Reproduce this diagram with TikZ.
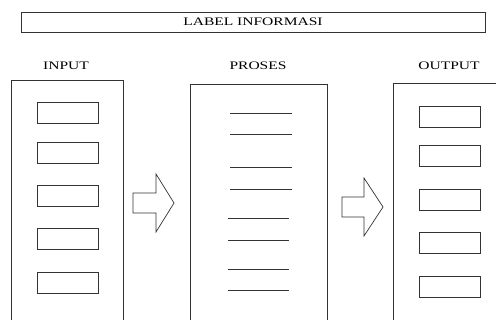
\documentclass[tikz,border=0pt]{standalone}
\usepackage{fontspec}
\setmainfont{Liberation Serif}[FakeStretch=1.35]

\begin{document}
\begin{tikzpicture}[x=1pt,y=-1pt,line width=.8pt,draw=black!80,
    every node/.style={inner sep=0pt,font=\fontsize{11.5}{12}\selectfont},
    frame/.style={draw,minimum width=#1},
    slot/.style={draw,minimum width=61,minimum height=21}]
  \useasboundingbox (0,0) rectangle (496,320);
  \clip (0,0) rectangle (496,320);

  \node[frame=464,minimum height=20] (info) at (253,22) {LABEL INFORMASI};
  \node (input) at (66,66) {INPUT};
  \node (proses) at (258,66) {PROSES};
  \node (output) at (449,66) {OUTPUT};

  \node[frame=112,minimum height=260] (colin) at (67,210) {};
  \node[frame=137,minimum height=256] (colproc) at (258.5,212) {};
  \node[frame=150,minimum height=257] (colout) at (468,211.5) {};

  \foreach \y [count=\i] in {112.5,152.5,196,239,282.5}
    \node[slot] (in\i) at (67.5,\y) {};
  \foreach \y [count=\i] in {116.5,156,200,243,287}
    \node[slot] (out\i) at (450,\y) {};

  \foreach \y in {113,134,167,189}
    \draw (230,\y) -- (292,\y);
  \foreach \y in {218,240,269,290}
    \draw (228,\y) -- (289,\y);

  \draw[line width=.7pt] (133,193) -- (156,193) -- (156,174) -- (174,203)
    -- (156,232) -- (156,213) -- (133,213) -- cycle;
  \draw[line width=.7pt] (342,197) -- (364,197) -- (364,178) -- (383,207)
    -- (364,236) -- (364,217) -- (342,217) -- cycle;
\end{tikzpicture}
\end{document}
